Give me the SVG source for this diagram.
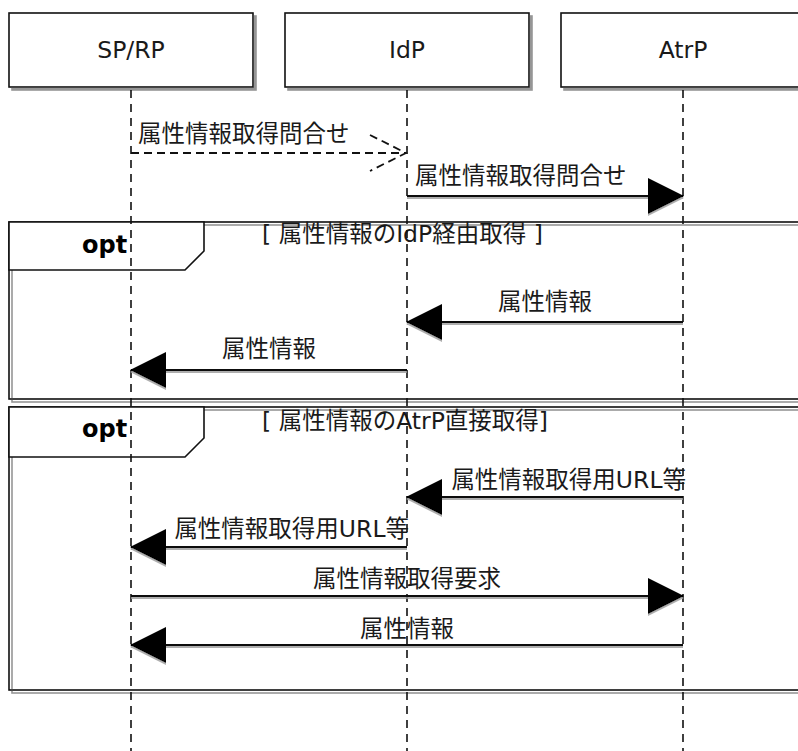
<svg xmlns="http://www.w3.org/2000/svg" width="798" height="751" viewBox="0 0 798 751">
  <style>
    .box { fill: #fff; stroke: #111; stroke-width: 1.6; }
    .frame { fill: none; stroke: #111; stroke-width: 1.6; }
    .tab { fill: #fff; stroke: #111; stroke-width: 1.6; }
    .life { stroke: #111; stroke-width: 1.6; stroke-dasharray: 8 6; fill: none; }
    .msg { stroke: #111; stroke-width: 1.8; fill: none; }
    .dash { stroke-dasharray: 8 5; }
    text { font-family: "DejaVu Sans", "Noto Sans CJK JP", sans-serif; fill: #1a1a1a; font-size: 23.5px; }
    .mid { text-anchor: middle; }
    .end { text-anchor: end; }
    .op { font-weight: bold; font-size: 24px; fill: #000; }
  </style>
  <defs>
    <filter id="shadow" filterUnits="userSpaceOnUse" x="0" y="0" width="798" height="751">
      <feDropShadow dx="3" dy="3" stdDeviation="0.7" flood-color="#8a8a8a" flood-opacity="0.9"/>
    </filter>
    <filter id="lineShadow" filterUnits="userSpaceOnUse" x="0" y="0" width="798" height="751">
      <feDropShadow dx="0" dy="2" stdDeviation="0.6" flood-color="#9a9a9a" flood-opacity="0.8"/>
    </filter>
    <marker id="solidHead" markerUnits="userSpaceOnUse" viewBox="0 0 36 36" refX="35" refY="18" markerWidth="36" markerHeight="36" orient="auto">
      <path d="M0,0 L36,18 L0,36 Z" fill="#000"/>
    </marker>
    <marker id="openHead" markerUnits="userSpaceOnUse" viewBox="-2 -2 42 42" refX="37" refY="19" markerWidth="42" markerHeight="42" orient="auto">
      <path d="M1,1 L37,19 L1,37" fill="none" stroke="#111" stroke-width="1.8" stroke-dasharray="8 5"/>
    </marker>
  </defs>

  <!-- combined fragments -->
  <g id="opt-idp-route">
    <rect class="frame" x="9" y="222" width="810" height="177" filter="url(#shadow)"/>
    <path class="tab" d="M9,222 H204 V251 L185,270 H9 Z"/>
    <text class="op" x="82" y="253">opt</text>
    <text x="262" y="242">[ 属性情報のIdP経由取得 ]</text>
  </g>
  <g id="opt-atrp-direct">
    <rect class="frame" x="9" y="407" width="810" height="283" filter="url(#shadow)"/>
    <path class="tab" d="M9,407 H204 V438 L185,457 H9 Z"/>
    <text class="op" x="82" y="437">opt</text>
    <text x="262" y="429">[ 属性情報のAtrP直接取得]</text>
  </g>

  <!-- participants -->
  <g id="sp-rp">
    <rect class="box" x="9" y="13" width="244" height="74" filter="url(#shadow)"/>
    <text class="mid" x="131" y="58">SP/RP</text>
    <line class="life" x1="131" y1="90" x2="131" y2="751"/>
  </g>
  <g id="idp">
    <rect class="box" x="285" y="13" width="244" height="74" filter="url(#shadow)"/>
    <text class="mid" x="407" y="58">IdP</text>
    <line class="life" x1="407" y1="90" x2="407" y2="751"/>
  </g>
  <g id="atrp">
    <rect class="box" x="561" y="13" width="260" height="74" filter="url(#shadow)"/>
    <text class="mid" x="683" y="58">AtrP</text>
    <line class="life" x1="683" y1="90" x2="683" y2="751"/>
  </g>

  <!-- messages -->
  <g id="connectors">
    <line class="msg dash" x1="131" y1="153" x2="406" y2="153" marker-end="url(#openHead)"/>
    <line class="msg" x1="407" y1="196" x2="683" y2="196" marker-end="url(#solidHead)" filter="url(#lineShadow)"/>
    <line class="msg" x1="683" y1="322" x2="407" y2="322" marker-end="url(#solidHead)" filter="url(#lineShadow)"/>
    <line class="msg" x1="407" y1="370" x2="131" y2="370" marker-end="url(#solidHead)" filter="url(#lineShadow)"/>
    <line class="msg" x1="683" y1="497" x2="407" y2="497" marker-end="url(#solidHead)" filter="url(#lineShadow)"/>
    <line class="msg" x1="407" y1="547" x2="131" y2="547" marker-end="url(#solidHead)" filter="url(#lineShadow)"/>
    <line class="msg" x1="131" y1="596" x2="683" y2="596" marker-end="url(#solidHead)" filter="url(#lineShadow)"/>
    <line class="msg" x1="683" y1="645" x2="131" y2="645" marker-end="url(#solidHead)" filter="url(#lineShadow)"/>
  </g>

  <!-- message labels -->
  <g id="labels">
    <text x="138" y="142">属性情報取得問合せ</text>
    <text x="415" y="184">属性情報取得問合せ</text>
    <text class="mid" x="545" y="310">属性情報</text>
    <text class="mid" x="269" y="357">属性情報</text>
    <text class="end" x="686" y="488">属性情報取得用URL等</text>
    <text class="end" x="409" y="537">属性情報取得用URL等</text>
    <text class="mid" x="407" y="587">属性情報取得要求</text>
    <text class="mid" x="407" y="637">属性情報</text>
  </g>
</svg>
